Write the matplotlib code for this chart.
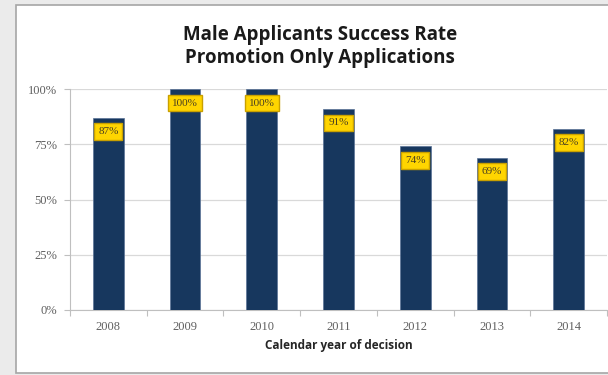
import matplotlib
matplotlib.use("Agg")
import matplotlib.pyplot as plt
from matplotlib.patches import Rectangle

years = ["2008", "2009", "2010", "2011", "2012", "2013", "2014"]
success_rate = [87, 100, 100, 91, 74, 69, 82]
y_ticks = [0, 25, 50, 75, 100]
y_tick_labels = ["0%", "25%", "50%", "75%", "100%"]

W, H = 608, 375
fig = plt.figure(figsize=(W / 100, H / 100), dpi=100)
fig.patch.set_facecolor("#ebebeb")

# white chart panel with a grey frame
panel = Rectangle((16 / W, 1 - 373 / H), (W - 15) / W, 368 / H,
                  transform=fig.transFigure, facecolor="white",
                  edgecolor="#a6a6a6", linewidth=1.2, zorder=-5)
fig.add_artist(panel)

ax = fig.add_axes([70 / W, 1 - 310 / H, 537 / W, 221 / H])
ax.set_facecolor("white")
ax.set_zorder(1)

x = list(range(len(years)))
ax.bar(x, success_rate, width=0.4, color="#17375e", edgecolor="#5a7296",
       linewidth=0.5, zorder=3)

for xi, v in zip(x, success_rate):
    ax.annotate(f"{v}%", xy=(xi, v), xytext=(0, -14), textcoords="offset pixels",
                ha="center", va="center", fontsize=8, color="#4a4020",
                family="Liberation Serif", zorder=5,
                bbox=dict(boxstyle="square,pad=0.35", fc="#ffd500",
                          ec="#c9a000", lw=1.0))

ax.set_xlim(-0.5, len(years) - 0.5)
ax.set_ylim(0, 100)
ax.set_yticks(y_ticks)
ax.set_yticklabels(y_tick_labels, fontsize=9, color="#606060",
                   family="Liberation Serif")
ax.yaxis.grid(True, color="#d9d9d9", linewidth=0.9, zorder=0)
ax.set_axisbelow(True)

ax.set_xticks(x)
ax.set_xticklabels(years, fontsize=9, color="#606060", family="Liberation Serif")
ax.set_xticks([i - 0.5 for i in range(len(years) + 1)], minor=True)
ax.tick_params(axis="x", which="major", length=0, pad=8)
ax.tick_params(axis="x", which="minor", length=4, color="#bfbfbf", width=0.8)
ax.tick_params(axis="y", length=4, color="#bfbfbf", width=0.8, pad=5)

for side in ["top", "right"]:
    ax.spines[side].set_visible(False)
for side in ["left", "bottom"]:
    ax.spines[side].set_color("#bfbfbf")
    ax.spines[side].set_linewidth(0.8)

ax.set_xlabel("Calendar year of decision", fontsize=8.5, fontweight="bold",
              color="#262626", family="Open Sans", labelpad=4)

fig.text(320 / W, 1 - 35 / H, "Male Applicants Success Rate", ha="center",
         va="center", fontsize=13.5, fontweight="bold", color="#1a1a1a",
         family="Open Sans")
fig.text(320 / W, 1 - 58 / H, "Promotion Only Applications", ha="center",
         va="center", fontsize=13.5, fontweight="bold", color="#1a1a1a",
         family="Open Sans")

fig.savefig("out.png", dpi=100, facecolor=fig.get_facecolor())
